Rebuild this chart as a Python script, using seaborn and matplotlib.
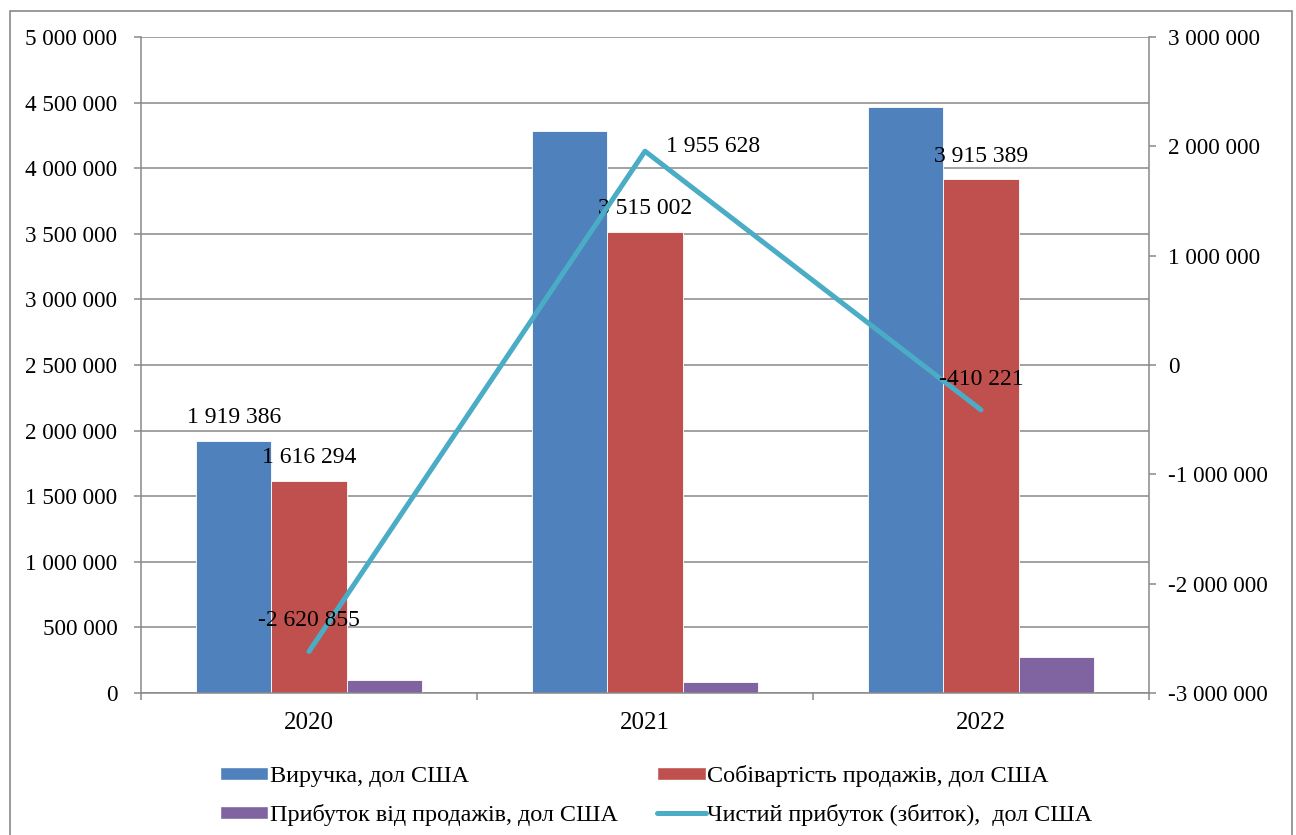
import numpy as np
import pandas as pd
import matplotlib
matplotlib.use("Agg")
import matplotlib.pyplot as plt
from matplotlib.patches import Rectangle, Patch
from matplotlib.lines import Line2D
from matplotlib.ticker import FuncFormatter, MultipleLocator, FixedLocator
import seaborn as sns

# ---- data -------------------------------------------------------------
years = ["2020", "2021", "2022"]
revenue = [1919386, 4285000, 4468000]
cost_of_sales = [1616294, 3515002, 3915389]
sales_profit = [97000, 84000, 274000]
net_profit = [-2620855, 1955628, -410221]

series_names = [
    "Виручка, дол США",
    "Собівартість продажів, дол США",
    "Прибуток від продажів, дол США",
]
line_name = "Чистий прибуток (збиток),  дол США"

bar_colors = ["#4F81BD", "#C0504D", "#8064A2"]
line_color = "#4BACC6"
gray = "#898989"

sns.set_theme(style="white")
plt.rcParams["font.family"] = ["Liberation Serif", "DejaVu Serif"]
plt.rcParams["text.color"] = "black"
plt.rcParams["xtick.color"] = "black"
plt.rcParams["ytick.color"] = "black"


def fmt(v, _=None):
    return f"{int(round(v)):,}".replace(",", " ")


df = pd.DataFrame({
    "year": years * 3,
    "series": np.repeat(series_names, len(years)),
    "value": revenue + cost_of_sales + sales_profit,
})

W, H = 1296, 835
fig = plt.figure(figsize=(W / 100, H / 100), dpi=100)
ax = fig.add_axes([141 / W, 1 - 693 / H, (1149 - 141) / W, (693 - 37) / H])

sns.barplot(
    data=df, x="year", y="value", hue="series",
    order=years, hue_order=series_names, palette=bar_colors,
    saturation=1, width=0.67, edgecolor="white", linewidth=0.6,
    legend=False, ax=ax, zorder=2,
)

# left axis
ax.set_xlim(-0.5, 2.5)
ax.set_ylim(0, 5_000_000)
ax.yaxis.set_major_locator(MultipleLocator(500_000))
ax.yaxis.set_major_formatter(FuncFormatter(fmt))
ax.set_axisbelow(True)
ax.grid(axis="y", color=gray, lw=1.1)
ax.grid(axis="x", visible=False)
ax.set_xlabel("")
ax.set_ylabel("")
for side in ("top", "right"):
    ax.spines[side].set_visible(False)
for side in ("left", "bottom"):
    ax.spines[side].set_color(gray)
    ax.spines[side].set_linewidth(1.1)
ax.tick_params(axis="y", left=True, length=5, width=1.1, color=gray,
               direction="out", pad=12, labelsize=16.7)
ax.xaxis.set_minor_locator(FixedLocator([-0.5, 0.5, 1.5, 2.5]))
ax.tick_params(axis="x", which="major", bottom=True, length=0, pad=14,
               labelsize=18)
ax.tick_params(axis="x", which="minor", bottom=True, length=5, width=1.1,
               color=gray, direction="out")

# right axis with the net-profit line
ax2 = ax.twinx()
positions = np.arange(len(years))
sns.lineplot(x=positions, y=net_profit, ax=ax2, color=line_color, lw=3.6,
             solid_capstyle="round", zorder=3)
ax2.set_ylim(-3_000_000, 3_000_000)
ax2.yaxis.set_major_locator(MultipleLocator(1_000_000))
ax2.yaxis.set_major_formatter(FuncFormatter(fmt))
ax2.grid(False)
ax2.set_ylabel("")
for side in ("top", "left", "bottom"):
    ax2.spines[side].set_visible(False)
ax2.spines["right"].set_color(gray)
ax2.spines["right"].set_linewidth(1.1)
ax2.tick_params(axis="y", right=True, length=5, width=1.1, color=gray,
                direction="out", pad=9, labelsize=16.7)

# value labels on bars
bar_w = 0.67 / 3
ax.annotate(fmt(revenue[0]), (0 - bar_w, revenue[0]), xytext=(0, 24),
            textcoords="offset pixels", ha="center", va="center", fontsize=17)
for i, v in enumerate(cost_of_sales):
    ax.annotate(fmt(v), (i, v), xytext=(0, 23), textcoords="offset pixels",
                ha="center", va="center", fontsize=17, zorder=5)

# value labels on the line
line_offsets = [((0, 31), "center"), ((21, 5), "left"), ((0, 30), "center")]
for i, v in enumerate(net_profit):
    (dx, dy), ha = line_offsets[i]
    ax2.annotate(fmt(v), (i, v), xytext=(dx, dy), textcoords="offset pixels",
                 ha=ha, va="center", fontsize=17, zorder=5)

# legend
handles = [
    Patch(facecolor=bar_colors[0]),
    Patch(facecolor=bar_colors[2]),
    Patch(facecolor=bar_colors[1]),
    Line2D([0], [0], color=line_color, lw=3.6, solid_capstyle="round"),
]
labels = [series_names[0], series_names[2], series_names[1], line_name]
fig.legend(handles, labels, ncol=2, loc="upper left",
           bbox_to_anchor=(220 / W, 1 - 765 / H), frameon=False,
           fontsize=17.4, handlelength=2.0, handleheight=0.45,
           handletextpad=0.05, columnspacing=1.65, labelspacing=0.7,
           borderpad=0, borderaxespad=0)

# outer chart border
fig.add_artist(Rectangle((9.5 / W, -0.02), (1292 - 9.5) / W,
                         1.02 - 10.5 / H, transform=fig.transFigure,
                         fill=False, edgecolor=gray, lw=1.2))

fig.savefig("out.png", dpi=100)
